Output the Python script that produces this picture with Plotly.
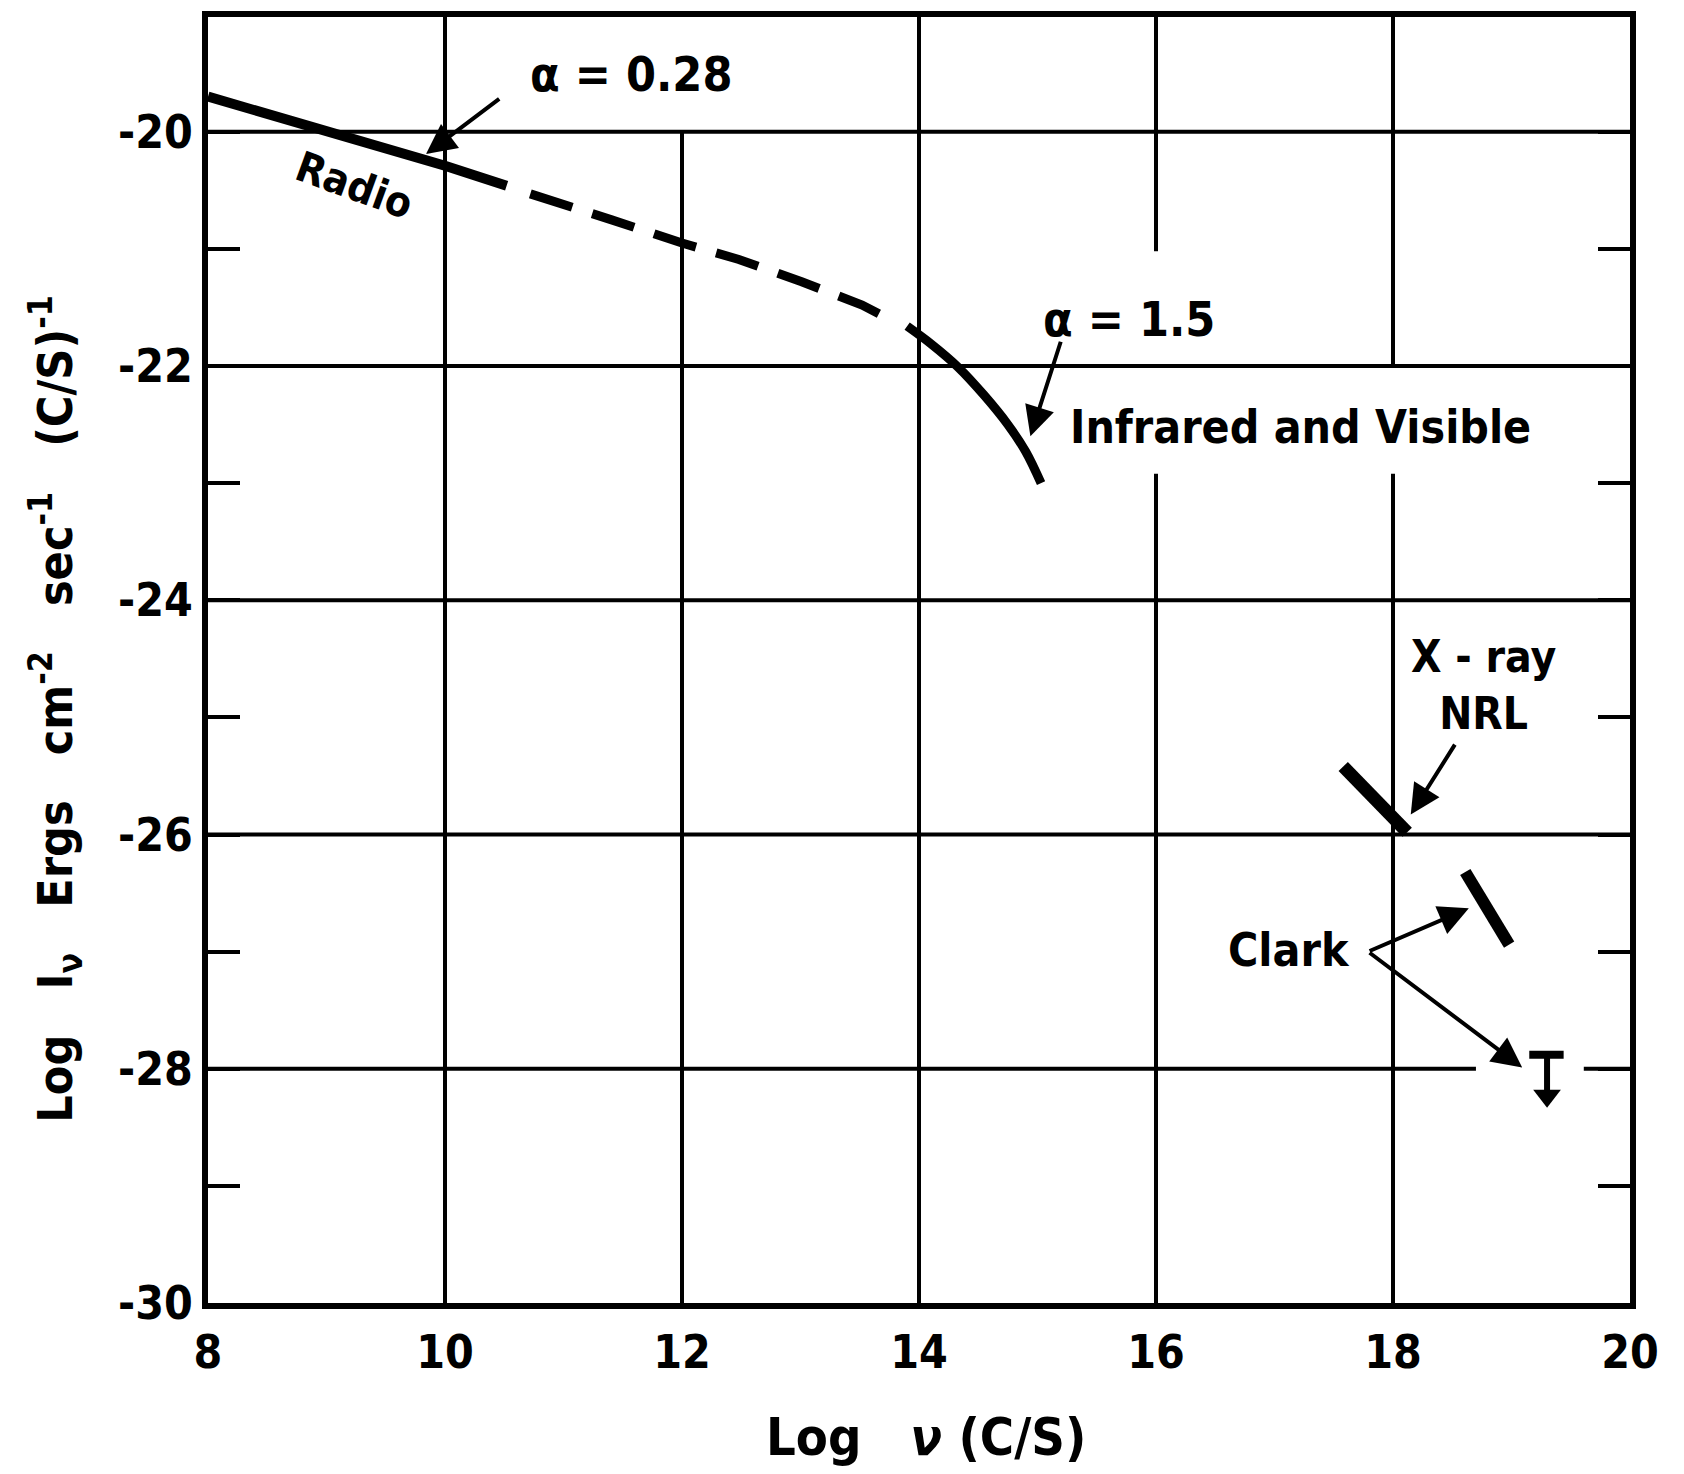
import plotly.graph_objects as go

# ---- data ----
radio_x = [8.0, 9.0, 10.0, 10.52]
radio_y = [-19.70, -19.99, -20.29, -20.46]

extrap_x = [10.72, 10.89, 11.40, 12.0, 12.48, 13.01, 13.52, 13.71]
extrap_y = [-20.53, -20.58, -20.75, -20.95, -21.09, -21.28, -21.48, -21.58]

ir_x = [13.90, 14.10, 14.33, 14.55, 14.75, 14.90, 15.03]
ir_y = [-21.66, -21.81, -22.01, -22.25, -22.50, -22.73, -23.0]

nrl_x = [17.58, 18.12]
nrl_y = [-25.42, -25.98]

clark_x = [18.61, 18.98]
clark_y = [-26.32, -26.94]

limit_x = 19.30
limit_bar_x = [19.15, 19.44]
limit_y_top = -27.88
limit_y_end = -28.20

x_ticks = [8, 10, 12, 14, 16, 18, 20]
x_ticklabels = ["8", "10", "12", "14", "16", "18", "20"]
y_ticks = [-30, -28, -26, -24, -22, -20]
y_ticklabels = ["-30", "-28", "-26", "-24", "-22", "-20"]

X_RANGE = [8, 20]
Y_RANGE = [-30, -19.02]

# grid segments: (x, y0, y1) vertical ; (y, x0, x1) horizontal
v_grid = [(10, -30, Y_RANGE[1]), (12, -30, -20), (14, -30, Y_RANGE[1]),
          (16, -30, -22.92), (16, -21.02, Y_RANGE[1]),
          (18, -30, -22.92), (18, -22.0, Y_RANGE[1])]
h_grid = [(-20, 8, 20), (-22, 8, 20), (-24, 8, 20), (-26, 8, 20),
          (-28, 8, 18.70), (-28, 19.61, 20)]

FONT = "'DejaVu Sans Condensed', 'Liberation Sans Narrow', 'DejaVu Sans', sans-serif"
INK = "black"

fig = go.Figure()

fig.add_trace(go.Scatter(x=radio_x, y=radio_y, mode="lines",
                         line=dict(color=INK, width=10), showlegend=False))
fig.add_trace(go.Scatter(x=extrap_x, y=extrap_y, mode="lines",
                         line=dict(color=INK, width=9, dash="44px,21px"),
                         showlegend=False))
fig.add_trace(go.Scatter(x=ir_x, y=ir_y, mode="lines", line_shape="spline",
                         line=dict(color=INK, width=9, smoothing=1), showlegend=False))
fig.add_trace(go.Scatter(x=nrl_x, y=nrl_y, mode="lines",
                         line=dict(color=INK, width=13), showlegend=False))
fig.add_trace(go.Scatter(x=clark_x, y=clark_y, mode="lines",
                         line=dict(color=INK, width=12), showlegend=False))
# upper limit marker
fig.add_trace(go.Scatter(x=limit_bar_x, y=[limit_y_top, limit_y_top], mode="lines",
                         line=dict(color=INK, width=8), showlegend=False))
fig.add_trace(go.Scatter(x=[limit_x, limit_x], y=[limit_y_top, limit_y_end], mode="lines",
                         line=dict(color=INK, width=6), showlegend=False))
fig.add_trace(go.Scatter(x=[limit_x], y=[limit_y_end - 0.03], mode="markers",
                         marker=dict(symbol="triangle-down", size=24, color=INK),
                         showlegend=False))

shapes = []
for xv, y0, y1 in v_grid:
    shapes.append(dict(type="line", xref="x", yref="y", x0=xv, x1=xv, y0=y0, y1=y1,
                       line=dict(color=INK, width=4), layer="below"))
for yv, x0, x1 in h_grid:
    shapes.append(dict(type="line", xref="x", yref="y", x0=x0, x1=x1, y0=yv, y1=yv,
                       line=dict(color=INK, width=4), layer="below"))

ann = []
def text(x, y, s, size=40, angle=0):
    ann.append(dict(x=x, y=y, xref="x", yref="y", text=s, showarrow=False, textangle=angle,
                    font=dict(family=FONT, size=size, color=INK, weight="bold")))

def arrow(x0, y0, x1, y1, head=2):
    ann.append(dict(x=x1, y=y1, ax=x0, ay=y0, xref="x", yref="y", axref="x", ayref="y",
                    text="", showarrow=True, arrowhead=head, arrowsize=1.5,
                    arrowwidth=4, arrowcolor=INK))

text(11.57, -19.51, "α = 0.28", size=48)
arrow(10.47, -19.71, 9.84, -20.19)
text(9.24, -20.46, "Radio", size=42, angle=20)
text(15.77, -21.60, "α = 1.5", size=48)
arrow(15.20, -21.78, 14.94, -22.60)
text(17.22, -22.52, "Infrared and Visible", size=46)
text(18.76, -24.72, "X - ray<br>NRL", size=44)
arrow(18.53, -25.22, 18.15, -25.83)
text(17.12, -26.99, "Clark", size=46)
arrow(17.79, -27.0, 18.64, -26.63)
arrow(17.79, -27.0, 19.09, -27.99)

# axis titles
ann.append(dict(x=0.505, y=-0.104, xref="paper", yref="paper", showarrow=False,
                xanchor="center", yanchor="middle",
                text="Log   <i>ν</i> (C/S)",
                font=dict(family=FONT, size=52, color=INK, weight="bold")))
ann.append(dict(x=-0.107, y=0.462, xref="paper", yref="paper", showarrow=False,
                xanchor="center", yanchor="middle", textangle=-90,
                text="Log   I<sub>ν</sub>   Ergs   cm<sup>-2</sup>   sec<sup>-1</sup>   (C/S)<sup>-1</sup>",
                font=dict(family=FONT, size=48, color=INK, weight="bold")))

# the page body adds a small offset; margins compensate so the plot box lands in place
fig.update_layout(
    width=1668, height=1458,
    margin=dict(l=200, r=46, t=3, b=163),
    paper_bgcolor="white", plot_bgcolor="white",
    shapes=shapes, annotations=ann,
    xaxis=dict(range=X_RANGE, tickvals=x_ticks, ticktext=x_ticklabels,
               showgrid=False, zeroline=False, showline=True, linewidth=6,
               linecolor=INK, mirror=True, ticks="", ticklabelstandoff=4,
               tickfont=dict(family=FONT, size=46, color=INK, weight="bold")),
    yaxis=dict(range=Y_RANGE, tickvals=y_ticks, ticktext=y_ticklabels,
               showgrid=False, zeroline=False, showline=True, linewidth=6,
               linecolor=INK, mirror="ticks", ticks="inside", ticklen=32,
               tickwidth=4, tickcolor=INK, ticklabelstandoff=0,
               minor=dict(tickmode="linear", tick0=-29, dtick=2, ticks="inside",
                          ticklen=32, tickwidth=4, tickcolor=INK, showgrid=False),
               tickfont=dict(family=FONT, size=46, color=INK, weight="bold")),
)

fig.write_html("out.html")
